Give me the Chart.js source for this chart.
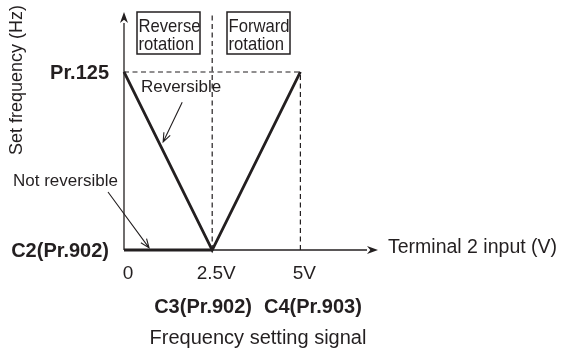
<!DOCTYPE html>
<html>
<head>
<meta charset="utf-8">
<script src="https://cdn.jsdelivr.net/npm/chart.js@4.4.1/dist/chart.umd.min.js"></script>
<style>
  html, body { margin: 0; padding: 0; background: #ffffff; }
  canvas { display: block; }
</style>
</head>
<body>
<canvas id="c" width="561" height="350"></canvas>
<script>
// ---- data (Pr.125 level = 1, C2 level = 0) ----
const xTickValues = [0, 2.5, 5];
const xTickLabels = ['0', '2.5V', '5V'];
const yTickValues = [0, 1];
const yTickLabels = ['C2(Pr.902)', 'Pr.125'];
const reversibleX = [0, 2.5, 5];
const reversibleY = [1, 0, 1];
const notReversibleX = [0, 2.5];
const notReversibleY = [0, 0];
const calibrationLabels = ['C3(Pr.902)', 'C4(Pr.903)'];
const rotationLabels = [['Reverse', 'rotation'], ['Forward', 'rotation']];
const xTitle = 'Terminal 2 input (V)';
const yTitle = 'Set frequency (Hz)';
const bottomTitle = 'Frequency setting signal';
const annotationTexts = ['Reversible', 'Not reversible'];

const X_MAX = 7.2, Y_MAX = 1.337;
const INK = '#231f20';
const FONT = '"Liberation Sans", Arial, Helvetica, sans-serif';

function pts(xs, ys) { return xs.map((x, i) => ({ x: x, y: ys[i] })); }

const dashStyle = { borderColor: INK, borderWidth: 1.2, borderDash: [5, 3.5], pointRadius: 0, showLine: true, fill: false, clip: false };

function arrowOpen(ctx, x1, y1, x2, y2, len, half) {
  const a = Math.atan2(y2 - y1, x2 - x1);
  ctx.beginPath();
  ctx.moveTo(x1, y1); ctx.lineTo(x2, y2);
  ctx.moveTo(x2 - len * Math.cos(a) + half * Math.sin(a), y2 - len * Math.sin(a) - half * Math.cos(a));
  ctx.lineTo(x2, y2);
  ctx.lineTo(x2 - len * Math.cos(a) - half * Math.sin(a), y2 - len * Math.sin(a) + half * Math.cos(a));
  ctx.stroke();
}
function arrowFilled(ctx, x1, y1, x2, y2, len, half) {
  const a = Math.atan2(y2 - y1, x2 - x1);
  ctx.beginPath();
  ctx.moveTo(x1, y1);
  ctx.lineTo(x2 - len * Math.cos(a), y2 - len * Math.sin(a));
  ctx.stroke();
  ctx.beginPath();
  ctx.moveTo(x2, y2);
  ctx.lineTo(x2 - len * Math.cos(a) + half * Math.sin(a), y2 - len * Math.sin(a) - half * Math.cos(a));
  ctx.lineTo(x2 - len * 0.7 * Math.cos(a), y2 - len * 0.7 * Math.sin(a));
  ctx.lineTo(x2 - len * Math.cos(a) - half * Math.sin(a), y2 - len * Math.sin(a) + half * Math.cos(a));
  ctx.closePath();
  ctx.fill();
}

const diagramPlugin = {
  id: 'diagram',
  beforeDatasetsDraw(chart) {
    const ctx = chart.ctx, xs = chart.scales.x, ys = chart.scales.y;
    const x0 = xs.getPixelForValue(0), y0 = ys.getPixelForValue(0);
    ctx.save();
    ctx.strokeStyle = INK; ctx.fillStyle = INK; ctx.lineWidth = 1.3;
    arrowFilled(ctx, x0, y0, xs.getPixelForValue(X_MAX), y0, 11, 4);
    arrowFilled(ctx, x0, y0, x0, ys.getPixelForValue(Y_MAX), 11, 4);
    ctx.restore();
  },
  afterDatasetsDraw(chart) {
    const ctx = chart.ctx, xs = chart.scales.x, ys = chart.scales.y;
    const x0 = xs.getPixelForValue(0), y0 = ys.getPixelForValue(0);
    ctx.save();
    ctx.fillStyle = INK; ctx.strokeStyle = INK;

    // y tick labels (bold)
    ctx.font = 'bold 20px ' + FONT;
    ctx.textAlign = 'right'; ctx.textBaseline = 'middle';
    yTickValues.forEach((v, i) => ctx.fillText(yTickLabels[i], x0 - 15, ys.getPixelForValue(v) + 1));

    // x tick labels
    ctx.font = '19px ' + FONT;
    ctx.textAlign = 'center'; ctx.textBaseline = 'middle';
    xTickValues.forEach((v, i) => ctx.fillText(xTickLabels[i], xs.getPixelForValue(v) + 4, y0 + 24));

    // calibration labels
    const cx = 258;
    ctx.font = 'bold 20px ' + FONT;
    ctx.textAlign = 'right';
    ctx.fillText(calibrationLabels[0], cx - 6, y0 + 57);
    ctx.textAlign = 'left';
    ctx.fillText(calibrationLabels[1], cx + 6, y0 + 57);

    // bottom title
    ctx.font = '20px ' + FONT;
    ctx.textAlign = 'center';
    ctx.fillText(bottomTitle, cx, y0 + 88);

    // x axis title
    ctx.font = '19.5px ' + FONT;
    ctx.textAlign = 'left';
    ctx.fillText(xTitle, xs.getPixelForValue(X_MAX) + 10, y0 - 2);

    // y axis title (rotated)
    ctx.save();
    ctx.translate(17, 80);
    ctx.rotate(-Math.PI / 2);
    ctx.font = '18px ' + FONT;
    ctx.textAlign = 'center';
    ctx.fillText(yTitle, 0, 0);
    ctx.restore();

    // rotation boxes
    const top = 12, bottom = 54;
    const boxes = [[137, 200], [227, 290]];
    ctx.lineWidth = 1.5;
    boxes.forEach((b, i) => {
      ctx.fillStyle = '#ffffff';
      ctx.fillRect(b[0], top, b[1] - b[0], bottom - top);
      ctx.strokeRect(b[0], top, b[1] - b[0], bottom - top);
      ctx.fillStyle = INK;
      ctx.save();
      ctx.translate(b[0] + 1.5, 0);
      ctx.scale(0.9, 1);
      ctx.font = '18.5px ' + FONT;
      ctx.textAlign = 'left'; ctx.textBaseline = 'alphabetic';
      ctx.fillText(rotationLabels[i][0], 0, 32);
      ctx.fillText(rotationLabels[i][1], 0, 50);
      ctx.restore();
    });

    // annotations
    ctx.font = '17px ' + FONT;
    ctx.textAlign = 'left'; ctx.textBaseline = 'middle';
    ctx.fillText(annotationTexts[0], xs.getPixelForValue(0.48), ys.getPixelForValue(0.915));
    ctx.fillText(annotationTexts[1], 13, ys.getPixelForValue(0.388));
    ctx.lineWidth = 1.1;
    arrowOpen(ctx, xs.getPixelForValue(1.65), ys.getPixelForValue(0.83),
                   xs.getPixelForValue(1.11), ys.getPixelForValue(0.607), 9, 3.5);
    arrowOpen(ctx, 108, ys.getPixelForValue(0.326),
                   xs.getPixelForValue(0.71), ys.getPixelForValue(0.012), 9, 3.5);
    ctx.restore();
  }
};

new Chart(document.getElementById('c'), {
  type: 'scatter',
  data: {
    datasets: [
      Object.assign({ data: pts([0, 5], [1, 1]) }, dashStyle),
      Object.assign({ data: pts([2.5, 2.5], [0, 1.32]) }, dashStyle),
      Object.assign({ data: pts([5, 5], [0, 1]) }, dashStyle),
      { data: pts(notReversibleX, notReversibleY), borderColor: INK, borderWidth: 2.8, pointRadius: 0, showLine: true, fill: false, clip: false },
      { data: pts(reversibleX, reversibleY), borderColor: INK, borderWidth: 2.8, pointRadius: 0, showLine: true, fill: false, clip: false, borderJoinStyle: 'miter' }
    ]
  },
  options: {
    responsive: false,
    animation: false,
    layout: { padding: { left: 124, right: 183, top: 12, bottom: 100 } },
    plugins: { legend: { display: false }, tooltip: { enabled: false } },
    scales: {
      x: { type: 'linear', min: 0, max: X_MAX, display: false },
      y: { type: 'linear', min: 0, max: Y_MAX, display: false }
    }
  },
  plugins: [diagramPlugin]
});
</script>
</body>
</html>
